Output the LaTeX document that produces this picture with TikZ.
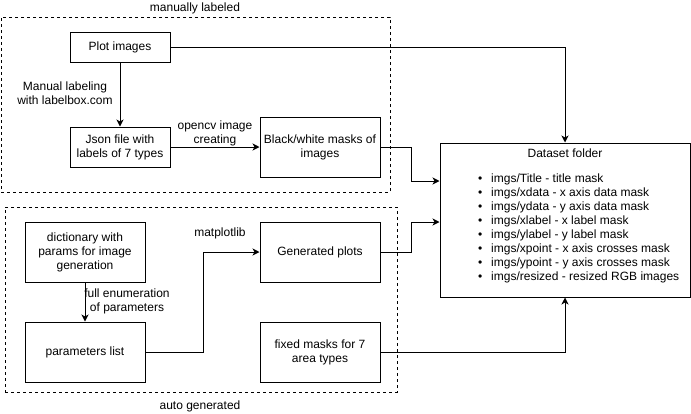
\documentclass[tikz,border=0pt]{standalone}
\usepackage{fontspec}
\setmainfont{Liberation Sans}
\usetikzlibrary{arrows.meta}
\begin{document}
\begin{tikzpicture}[x=1pt,y=-1pt,
  every node/.style={font=\fontsize{12}{14}\selectfont},
  box/.style={draw,line width=1pt,inner sep=2pt,align=center},
  grp/.style={draw,line width=0.9pt,dash pattern=on 3pt off 3pt},
  lbl/.style={align=center,inner sep=0pt},
  conn/.style={line width=1pt,-{Stealth[length=7pt,width=7pt,inset=2pt]}}
]
\useasboundingbox (0,0) rectangle (691,413);
% groups
\node[grp,minimum width=389pt,minimum height=175pt] (gtop) at (195.5,104.5) {};
\node[lbl] (gtoplbl) at (195,8) {manually labeled};
\node[grp,minimum width=392pt,minimum height=185pt] (gbot) at (201,299.5) {};
\node[lbl] (gbotlbl) at (200,406) {auto generated};
% boxes
\node[box,minimum width=100pt,minimum height=30pt] (plot) at (120,47) {Plot images};
\node[box,minimum width=100pt,minimum height=40pt] (json) at (120,147) {Json file with\\labels of 7 types};
\node[box,minimum width=120pt,minimum height=60pt] (bw) at (320,147) {Black/white masks of\\images};
\node[box,minimum width=120pt,minimum height=60pt] (dict) at (85,252) {dictionary with\\params for image\\generation};
\node[box,minimum width=120pt,minimum height=60pt] (params) at (85,352) {parameters list};
\node[box,minimum width=120pt,minimum height=60pt] (gen) at (320,252) {Generated plots};
\node[box,minimum width=120pt,minimum height=60pt] (fixed) at (320,352) {fixed masks for 7\\area types};
\node[box,minimum width=250pt,minimum height=154pt] (dataset) at (565,220) {};
\node[lbl] (dstitle) at (565,153) {Dataset folder};
\node[lbl,align=left,anchor=west] (dslist) at (478,228) {%
\makebox[13pt][l]{\textbullet}imgs/Title - title mask\\
\makebox[13pt][l]{\textbullet}imgs/xdata - x axis data mask\\
\makebox[13pt][l]{\textbullet}imgs/ydata - y axis data mask\\
\makebox[13pt][l]{\textbullet}imgs/xlabel - x label mask\\
\makebox[13pt][l]{\textbullet}imgs/ylabel - y label mask\\
\makebox[13pt][l]{\textbullet}imgs/xpoint - x axis crosses mask\\
\makebox[13pt][l]{\textbullet}imgs/ypoint - y axis crosses mask\\
\makebox[13pt][l]{\textbullet}imgs/resized - resized RGB images};
% edge labels
\node[lbl] (l1) at (65,93) {Manual labeling\\with labelbox.com};
\node[lbl] (l2) at (215,133) {opencv image\\creating};
\node[lbl] (l3) at (127,301) {full enumeration\\of parameters};
\node[lbl] (l4) at (220,233) {matplotlib};
% connectors
\draw[conn] (plot) -- (json);
\draw[conn] (json) -- (bw);
\draw[conn] (dict) -- (params);
\draw[conn] (params.east) -- ++(58,0) |- (gen.west);
\draw[conn] (plot.east) -| (dataset.north);
\draw[conn] (bw.east) -- ++(31,0) |- ([yshift=39pt]dataset.west);
\draw[conn] (gen.east) -- ++(31,0) |- ([yshift=-2pt]dataset.west);
\draw[conn] (fixed.east) -| (dataset.south);
\end{tikzpicture}
\end{document}
